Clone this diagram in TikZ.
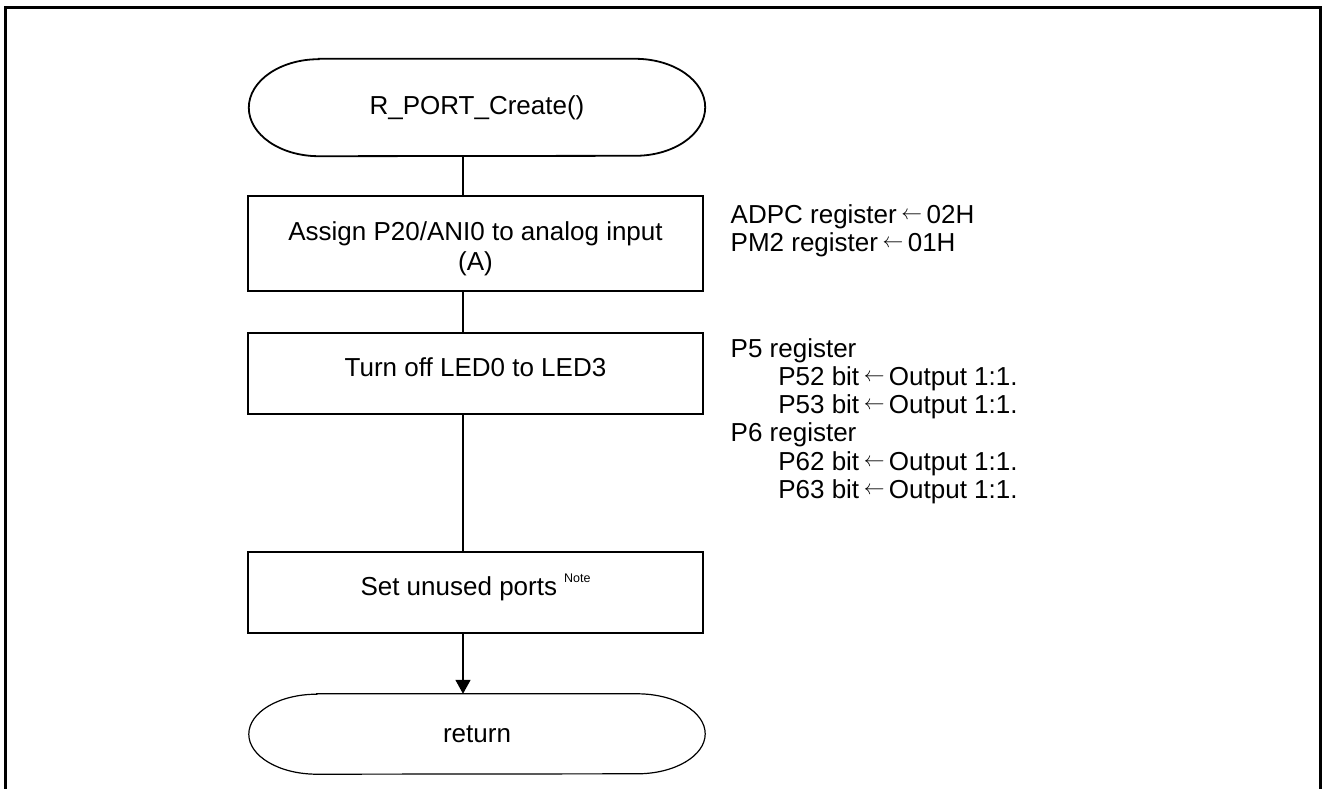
\documentclass[tikz,border=0pt]{standalone}
\usepackage{fontspec}
\setmainfont{Liberation Sans}
\usetikzlibrary{arrows.meta}
% thin left arrow used in the register notes
\newcommand\regarrow{\hspace{4.5pt}\raisebox{4pt}{\fontsize{20}{20}\selectfont$\leftarrow$}\hspace{4.5pt}}
\begin{document}
\begin{tikzpicture}[x=1pt,y=-1pt,
  bodytext/.style={font=\fontsize{26}{30}\selectfont},
  procbox/.style={draw, line width=1.8pt, minimum width=455pt, minimum height=81pt,
    inner sep=0pt, align=center, bodytext},
  onebox/.style={procbox, text height=19pt, text depth=14pt},
  termnode/.style={minimum width=456pt, inner sep=0pt, bodytext},
  note/.style={anchor=north west, inner sep=0pt, align=left,
    font=\fontsize{26}{28.3}\selectfont},
  link/.style={line width=1.6pt}]
\clip (0,0) rectangle (1323,789);

% outer frame (open at the bottom)
\draw[line width=2.2pt] (5.5,800) -- (5.5,7.5) -- (1320.5,7.5) -- (1320.5,800);

% terminals
\node[termnode, minimum height=97pt] (start) at (477,107.5) {R\_PORT\_Create()};
\draw[line width=1.8pt] ([xshift=70pt]start.north west) -- ([xshift=-70pt]start.north east)
  arc[start angle=90, end angle=-90, x radius=70pt, y radius=48.5pt]
  -- ([xshift=70pt]start.south west)
  arc[start angle=270, end angle=90, x radius=70pt, y radius=48.5pt] -- cycle;

\node[termnode, minimum height=80pt] (ret) at (477,734) {return};
\draw[line width=1.2pt] ([xshift=68pt]ret.north west) -- ([xshift=-68pt]ret.north east)
  arc[start angle=90, end angle=-90, x radius=68pt, y radius=40pt]
  -- ([xshift=68pt]ret.south west)
  arc[start angle=270, end angle=90, x radius=68pt, y radius=40pt] -- cycle;

% process boxes
\node[procbox, minimum height=95pt] (b1) at (475.5,243.5)
  {\rule{0pt}{29pt}Assign P20/ANI0 to analog input\\(A)};
\node[onebox] (b2) at (475.5,373.5) {Turn off LED0 to LED3};
\node[onebox] (b3) at (475.5,592.5)
  {Set unused ports\hspace{7pt}\raisebox{13pt}{\fontsize{12.5}{12.5}\selectfont Note}};

% flow line
\coordinate (spine) at (463,0);
\draw[link] (start.south -| spine) -- (b1.north -| spine);
\draw[link] (b1.south -| spine) -- (b2.north -| spine);
\draw[link] (b2.south -| spine) -- (b3.north -| spine);
\draw[link, -{Triangle[length=14pt, width=15pt]}] (b3.south -| spine) -- (ret.north -| spine);

% register notes
\node[note] (n1) at (730.5,204) {ADPC register\regarrow 02H\\PM2 register\regarrow 01H};
\node[note] (n2) at (730.5,338) {P5 register\\
  \hspace*{47.6pt}P52 bit\regarrow Output 1:1.\\
  \hspace*{47.6pt}P53 bit\regarrow Output 1:1.\\
  P6 register\\
  \hspace*{47.6pt}P62 bit\regarrow Output 1:1.\\
  \hspace*{47.6pt}P63 bit\regarrow Output 1:1.};
\end{tikzpicture}
\end{document}
